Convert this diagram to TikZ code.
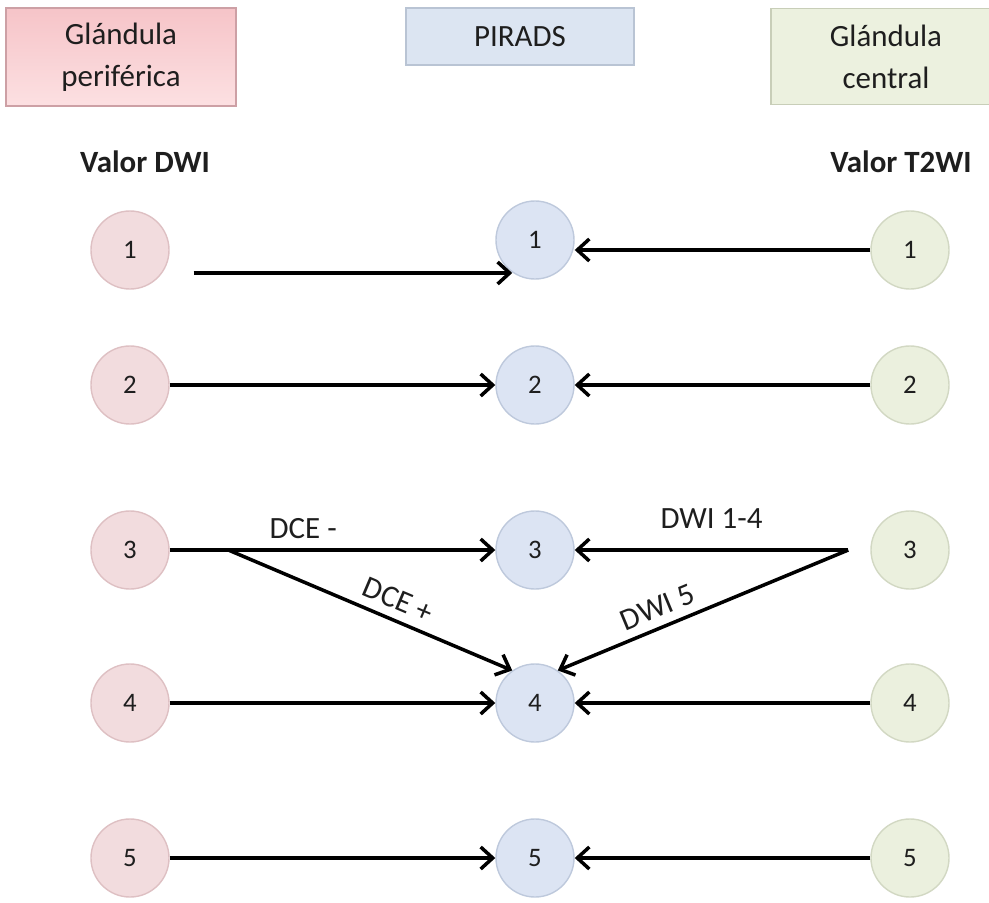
\documentclass[tikz,border=0pt]{standalone}
\usepackage{fontspec}
\setmainfont{Carlito}
\usepackage{tikz}
\usetikzlibrary{
  arrows.meta,
  automata,
  calc
}
\usepackage{xcolor}
\definecolor{pinkTop}{RGB}{246,196,200}
\definecolor{pinkBot}{RGB}{252,224,226}
\definecolor{pinkLine}{RGB}{205,160,165}
\definecolor{blueBox}{RGB}{220,229,242}
\definecolor{blueLine}{RGB}{185,196,212}
\definecolor{greenBox}{RGB}{236,241,223}
\definecolor{greenLine}{RGB}{200,206,184}
\definecolor{lightPink}{RGB}{242,220,222}
\definecolor{darkPink}{RGB}{222,192,195}
\definecolor{lightBlue}{RGB}{220,228,243}
\definecolor{darkBlue}{RGB}{190,201,220}
\definecolor{lightGreen}{RGB}{235,240,222}
\definecolor{darkGreen}{RGB}{210,216,195}
\definecolor{textGray}{RGB}{30,30,30}
\tikzset{
  every state/.style={
    inner sep = 0pt,
    minimum size = 1.95cm,
    line width = 1pt,
    text = textGray,
    font = \fontsize{19}{22}\selectfont
  },
  pinkState/.style={fill=lightPink, draw=darkPink},
  blueState/.style={fill=lightBlue, draw=darkBlue},
  greenState/.style={fill=lightGreen, draw=darkGreen},
  header/.style={
    rectangle,
    minimum width = 5.75cm,
    align = center,
    text = textGray,
    line width = 0.8pt,
    font = \fontsize{22}{30}\selectfont
  }
}

\begin{document}
\begin{tikzpicture}[
      x=0.025cm, y=-0.025cm,
      >={Straight Barb[length=3mm,width=5.5mm]},
      conn/.style={->, line width=2.5pt},
      lbl/.style={font=\fontsize{22}{26}\selectfont, text=textGray, inner sep=2pt},
      valor/.style={font=\fontsize{22}{26}\selectfont\bfseries, text=textGray}
      ]

      \useasboundingbox (0,0) rectangle (989,903);

      % headers
      \node[header, top color=pinkTop, bottom color=pinkBot, draw=pinkLine,
        minimum height=2.45cm] (perif) at (121,57) {Glándula\\periférica};
      \node[header, fill=blueBox, draw=blueLine, minimum width=5.7cm,
        minimum height=1.425cm] (pirads) at (520,36.5) {PIRADS};
      \node[header, fill=greenBox, draw=greenLine,
        minimum height=2.42cm] (central) at (886,56.5) {Glándula\\central};

      \node[valor] (valorDWI) at (145,162) {Valor DWI};
      \node[valor] (valorT2W) at (901,162) {Valor T2WI};

      \foreach \n/\y in {1/250,2/385,3/550,4/703,5/858}{
        \node[state, pinkState] (dwi\n) at (130,\y) {\n};
        \node[state, greenState] (t2w\n) at (910,\y) {\n};
      }
      \foreach \n/\y in {1/240,2/385,3/550,4/703,5/858}{
        \node[state, blueState] (p\n) at (535,\y) {\n};
      }

      % straight rows
      \foreach \n in {2,4,5}{
        \draw[conn] (dwi\n) -- (p\n);
        \draw[conn] (t2w\n) -- (p\n);
      }

      % row 1
      \coordinate (dwi1s) at ([shift={(24,23)}]dwi1.east);
      \draw[conn] (dwi1s) -- (dwi1s -| p1.235);
      \draw[conn] (t2w1) -- (t2w1.west -| p1.east);

      % row 3, with branches
      \coordinate (dwiS) at ([shift={(-22,0)}]t2w3.west);
      \draw[conn] (dwi3) -- coordinate[pos=0.18] (dceS)
        node[lbl, above=5pt, pos=0.41] {DCE -} (p3);
      \draw[conn] (dceS) -- node[lbl, sloped, above=4pt, pos=0.57] {DCE +} (p4.125);
      \draw[conn] (dwiS) -- node[lbl, above=12pt, pos=0.5] {DWI 1-4} (p3);
      \draw[conn] (dwiS) -- node[lbl, sloped, above=4pt, pos=0.63] {DWI 5} (p4.55);
    \end{tikzpicture}
\end{document}
